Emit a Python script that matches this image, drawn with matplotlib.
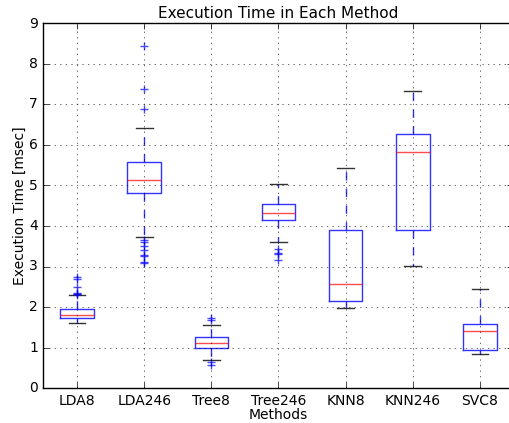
import numpy as np
import matplotlib
matplotlib.use('Agg')
import matplotlib.pyplot as plt

plt.style.use('classic')

# box statistics
methods = ['LDA8', 'LDA246', 'Tree8', 'Tree246', 'KNN8', 'KNN246', 'SVC8']
whislo = [1.60, 3.73, 0.68, 3.60, 1.97, 3.02, 0.84]
q1 = [1.73, 4.81, 1.00, 4.14, 2.16, 3.91, 0.94]
med = [1.80, 5.13, 1.11, 4.31, 2.57, 5.82, 1.41]
q3 = [1.96, 5.57, 1.27, 4.54, 3.91, 6.28, 1.58]
whishi = [2.29, 6.41, 1.56, 5.03, 5.44, 7.34, 2.44]
fliers = [
    [2.75, 2.70, 2.50, 2.35, 2.32, 2.31],
    [8.44, 7.38, 6.88, 3.65, 3.61, 3.50, 3.40, 3.28, 3.26, 3.12, 3.08],
    [1.74, 1.68, 0.65, 0.58],
    [3.42, 3.34, 3.32, 3.16],
    [],
    [],
    [],
]

stats = []
for i, name in enumerate(methods):
    stats.append({'label': name, 'whislo': whislo[i], 'q1': q1[i], 'med': med[i],
                  'q3': q3[i], 'whishi': whishi[i], 'fliers': fliers[i]})

fig = plt.figure(figsize=(5.1, 4.23), dpi=100, facecolor='white')
ax = fig.add_axes([43.5/510., 35/423., 470/510., 364.5/423.])

ax.bxp(stats, widths=0.5,
       boxprops=dict(color='b', alpha=0.8),
       whiskerprops=dict(color='b', linestyle='--', alpha=0.8),
       capprops=dict(color='k', alpha=0.8),
       medianprops=dict(color='r', alpha=0.7),
       flierprops=dict(marker='+', markeredgecolor='b', alpha=0.7, markersize=6))

ax.set_xlim(0.5, 7.5)
ax.set_ylim(0, 9)
ax.grid(True, linestyle=':', color='k', alpha=0.8)
ax.tick_params(labelsize=10)
ax.set_title('Execution Time in Each Method', fontsize=11, pad=4)
ax.set_xlabel('Methods', fontsize=10, labelpad=0.5)
ax.set_ylabel('Execution Time [msec]', fontsize=10, labelpad=1.5)

fig.savefig('out.png', dpi=100, facecolor='white')
